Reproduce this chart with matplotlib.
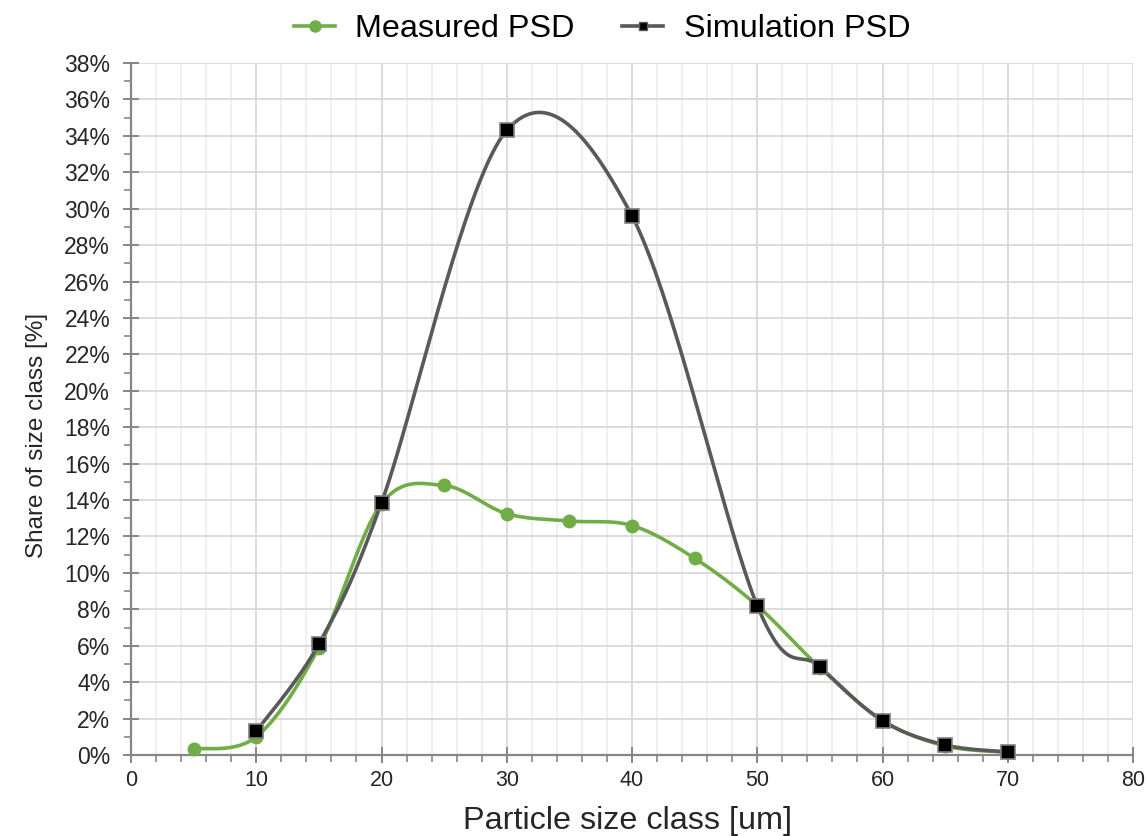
import numpy as np
import matplotlib
matplotlib.use("Agg")
import matplotlib.pyplot as plt
from matplotlib.ticker import MultipleLocator, FuncFormatter

# Data ---------------------------------------------------------------------------------------------
size_class   = [5, 10, 15, 20, 25, 30, 35, 40, 45, 50, 55, 60, 65, 70]
measured_psd = [0.33, 1.0, 5.9, 13.8, 14.8, 13.25, 12.85, 12.6, 10.8, 8.2, 4.8, 1.9, 0.5, 0.15]

sim_class    = [10, 15, 20, 30, 40, 50, 55, 60, 65, 70]
sim_psd      = [1.3, 6.1, 13.85, 34.3, 29.6, 8.2, 4.85, 1.88, 0.55, 0.17]

GREEN = "#70ad47"
GREY  = "#595959"

# Utils --------------------------------------------------------------------------------------------
def smooth(x, y, n=40):
    # Excel style smoothed line (bezier through points)
    pts = np.column_stack([x, y]).astype(float)
    P   = np.vstack([pts[0], pts, pts[-1]])
    out = []
    t   = np.linspace(0, 1, n)[:, None]
    for i in range(1, len(P) - 2):
        p0, p1, p2, p3 = P[i - 1], P[i], P[i + 1], P[i + 2]
        c1 = p1 + (p2 - p0) / 6
        c2 = p2 - (p3 - p1) / 6
        b  = (1 - t)**3*p1 + 3*(1 - t)**2*t*c1 + 3*(1 - t)*t**2*c2 + t**3*p2
        out.append(b)
    out = np.vstack(out)
    return out[:, 0], out[:, 1]

# Plot ---------------------------------------------------------------------------------------------
plt.rcParams['font.family'] = ['Liberation Sans', 'DejaVu Sans']

fig = plt.figure(figsize=(11.48, 8.36), dpi=100)
ax  = fig.add_axes([131/1148, 81/836, 1002/1148, 692/836])

ax.set_xlim(0, 80)
ax.set_ylim(0, 38)

ax.xaxis.set_major_locator(MultipleLocator(10))
ax.xaxis.set_minor_locator(MultipleLocator(2))
ax.yaxis.set_major_locator(MultipleLocator(2))
ax.yaxis.set_minor_locator(MultipleLocator(1))
ax.yaxis.set_major_formatter(FuncFormatter(lambda v, p: "%d%%" % round(v)))

ax.grid(True, which="major", color="#d9d9d9", linewidth=1.3)
ax.grid(True, which="minor", axis="x", color="#ececec", linewidth=1.2)
ax.set_axisbelow(True)

for s in ["top", "right"]:
    ax.spines[s].set_visible(False)
for s in ["left", "bottom"]:
    ax.spines[s].set_color("#868686")
    ax.spines[s].set_linewidth(1.6)

ax.tick_params(which="major", direction="inout", length=12, width=1.4, color="#868686")
ax.tick_params(which="minor", direction="out", length=5, width=1.2, color="#868686")
ax.tick_params(axis="y", which="major", labelsize=16.5, labelcolor="#262626", pad=9)
ax.tick_params(axis="x", which="major", labelsize=15.5, labelcolor="#262626", pad=5)

# measured
xs, ys = smooth(size_class, measured_psd)
ax.plot(xs, ys, color=GREEN, linewidth=2.6, zorder=3, clip_on=False)
ax.plot(size_class, measured_psd, 'o', color=GREEN, markersize=9, zorder=3, clip_on=False)

# simulation
xs, ys = smooth(sim_class, sim_psd)
ax.plot(xs, ys, color=GREY, linewidth=2.6, zorder=4, clip_on=False)
ax.plot(sim_class, sim_psd, 's', color="black", markeredgecolor="#7f7f7f", markeredgewidth=1.2,
        markersize=10, zorder=5, clip_on=False)

# legend handles
h1, = ax.plot([], [], '-o', color=GREEN, linewidth=2.6, markersize=8)
h2, = ax.plot([], [], '-s', color=GREY, markerfacecolor="black", linewidth=2.6, markersize=6)
fig.legend([h1, h2], ["Measured PSD", "Simulation PSD"], loc="center",
           bbox_to_anchor=(602/1148, 1 - 29/836), ncol=2, frameon=False,
           prop={'size': 23.3}, handlelength=1.27, handletextpad=0.62, columnspacing=1.48)

ax.set_xlabel("Particle size class [um]", fontsize=23.3, color="#262626")
ax.set_ylabel("Share of size class [%]", fontsize=17.5, color="#262626")
ax.xaxis.set_label_coords(0.496, -0.073)
ax.yaxis.set_label_coords(-0.083, 0.462)

fig.savefig("out.png", dpi=100)
